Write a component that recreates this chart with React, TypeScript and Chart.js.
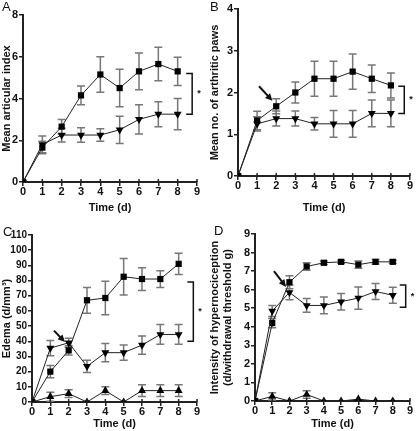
import React, { useEffect, useRef } from "react";
import { Chart, registerables } from "chart.js";
Chart.register(...registerables);

const DAYS = [0, 1, 2, 3, 4, 5, 6, 7, 8];
const X_TICKS = [0, 1, 2, 3, 4, 5, 6, 7, 8, 9];

const A_Y_TICKS = [0, 2, 4, 6, 8];
const A_SQ = [0, 1.65, 2.65, 4.15, 5.15, 4.5, 5.3, 5.65, 5.3];
const A_SQ_ERR = [0, 0.3, 0.35, 0.45, 0.85, 0.9, 0.88, 0.8, 0.68];
const A_DOWN = [0, 1.8, 2.25, 2.25, 2.25, 2.5, 3.0, 3.25, 3.25];
const A_DOWN_ERR = [0, 0.4, 0.33, 0.35, 0.3, 0.65, 0.7, 0.6, 0.75];

const B_Y_TICKS = [0, 1, 2, 3, 4];
const B_SQ = [0, 1.33, 1.67, 2.0, 2.33, 2.33, 2.5, 2.33, 2.17];
const B_SQ_ERR = [0, 0.22, 0.18, 0.25, 0.42, 0.42, 0.42, 0.33, 0.3];
const B_DOWN = [0, 1.25, 1.375, 1.375, 1.25, 1.25, 1.25, 1.5, 1.5];
const B_DOWN_ERR = [0, 0.17, 0.18, 0.18, 0.15, 0.32, 0.32, 0.32, 0.32];

const C_Y_TICKS = [0, 10, 20, 30, 40, 50, 60, 70, 80, 90, 100, 110];
const C_SQ = [0, 20, 34, 67, 68.5, 82.5, 81, 81, 91];
const C_SQ_ERR = [0, 4, 3, 8.5, 11, 12, 7.5, 5.5, 7];
const C_DOWN = [0, 35.5, 39, 23.5, 32.5, 32.5, 37.5, 44.5, 44.5];
const C_DOWN_ERR = [0, 5, 3, 4, 6, 5, 6, 6.5, 6.5];
const C_UP = [0, 3.5, 5.5, 0, 7.5, 0, 7.5, 7.5, 7.5];
const C_UP_ERR = [0, 3, 2.5, 0, 2.5, 0, 3.8, 3.8, 3.8];

const D_Y_TICKS = [0, 1, 2, 3, 4, 5, 6, 7, 8, 9];
const D_SQ = [0, 4.2, 6.4, 7.25, 7.45, 7.5, 7.35, 7.5, 7.5];
const D_SQ_ERR = [0, 0.25, 0.35, 0.2, 0.1, 0.08, 0.2, 0.12, 0.08];
const D_DOWN = [0, 4.85, 5.85, 5.15, 5.15, 5.35, 5.55, 5.9, 5.7];
const D_DOWN_ERR = [0, 0.3, 0.4, 0.37, 0.45, 0.45, 0.6, 0.43, 0.43];
const D_UP = [0, 0.25, 0, 0.35, 0, 0, 0.1, 0, 0];
const D_UP_ERR = [0, 0.2, 0, 0.2, 0, 0, 0, 0, 0];

const FONT = "'Liberation Sans', Arial, sans-serif";

type Series = { values: number[]; err: number[]; shape: "sq" | "down" | "up" };
type PanelProps = {
  letter: string;
  letterPos: [number, number];
  width: number;
  height: number;
  area: { left: number; right: number; top: number; bottom: number };
  yTicks: number[];
  yTickSize: number;
  yTitle: string | string[];
  series: Series[];
  bracket: { x: number; y1: number; y2: number };
  arrow?: { x1: number; y1: number; x2: number; y2: number };
};

function Panel(p: PanelProps) {
  const ref = useRef<HTMLCanvasElement>(null);
  useEffect(() => {
    const canvas = ref.current!;
    const datasets = p.series.map((s) => ({
      data: DAYS.map((d, i) => ({ x: d, y: s.values[i] })),
      borderColor: "#222",
      borderWidth: 1,
      backgroundColor: "#000",
      pointBackgroundColor: "#000",
      pointBorderColor: "#000",
      pointBorderWidth: 0,
      pointStyle: s.shape === "sq" ? "rect" : "triangle",
      pointRotation: s.shape === "down" ? 180 : 0,
      pointRadius: s.shape === "sq" ? 4.4 : 4.6,
      fill: false,
      tension: 0,
    }));
    const errPlugin = {
      id: "err",
      beforeDatasetsDraw(chart: any) {
        const ctx = chart.ctx;
        const xs = chart.scales.x;
        const ys = chart.scales.y;
        ctx.save();
        ctx.strokeStyle = "#777";
        ctx.lineWidth = 1.5;
        p.series.forEach((s) => {
          DAYS.forEach((d, i) => {
            const e = s.err[i];
            if (!e) return;
            const px = xs.getPixelForValue(d);
            const top = ys.getPixelForValue(s.values[i] + e);
            const bot = ys.getPixelForValue(s.values[i] - e);
            ctx.beginPath();
            ctx.moveTo(px, top);
            ctx.lineTo(px, bot);
            ctx.moveTo(px - 4, top);
            ctx.lineTo(px + 4, top);
            ctx.moveTo(px - 4, bot);
            ctx.lineTo(px + 4, bot);
            ctx.stroke();
          });
        });
        ctx.restore();
      },
      afterDraw(chart: any) {
        const ctx = chart.ctx;
        const xs = chart.scales.x;
        const ys = chart.scales.y;
        ctx.save();
        // inward half of x-axis tick crosses
        ctx.strokeStyle = "#222";
        ctx.lineWidth = 1.5;
        const yb = ys.getPixelForValue(0);
        X_TICKS.slice(1).forEach((v) => {
          const px = xs.getPixelForValue(v);
          ctx.beginPath();
          ctx.moveTo(px, yb);
          ctx.lineTo(px, yb - 3);
          ctx.stroke();
        });
        // panel letter
        ctx.fillStyle = "#111";
        ctx.font = `13px ${FONT}`;
        ctx.textBaseline = "top";
        ctx.textAlign = "left";
        ctx.fillText(p.letter, p.letterPos[0], p.letterPos[1]);
        // bracket
        const bx = xs.getPixelForValue(p.bracket.x);
        const by1 = ys.getPixelForValue(p.bracket.y1);
        const by2 = ys.getPixelForValue(p.bracket.y2);
        ctx.strokeStyle = "#111";
        ctx.lineWidth = 1.5;
        ctx.beginPath();
        ctx.moveTo(bx - 6, by1);
        ctx.lineTo(bx, by1);
        ctx.lineTo(bx, by2);
        ctx.lineTo(bx - 6, by2);
        ctx.stroke();
        ctx.font = `bold 9px ${FONT}`;
        ctx.textAlign = "left";
        ctx.textBaseline = "middle";
        ctx.fillText("*", bx + 5, (by1 + by2) / 2);
        // arrow
        if (p.arrow) {
          const x1 = xs.getPixelForValue(p.arrow.x1);
          const y1 = ys.getPixelForValue(p.arrow.y1);
          const x2 = xs.getPixelForValue(p.arrow.x2);
          const y2 = ys.getPixelForValue(p.arrow.y2);
          const ang = Math.atan2(y2 - y1, x2 - x1);
          ctx.lineWidth = 2;
          ctx.beginPath();
          ctx.moveTo(x1, y1);
          ctx.lineTo(x2 - 5 * Math.cos(ang), y2 - 5 * Math.sin(ang));
          ctx.stroke();
          ctx.beginPath();
          ctx.moveTo(x2, y2);
          ctx.lineTo(x2 - 8 * Math.cos(ang - 0.45), y2 - 8 * Math.sin(ang - 0.45));
          ctx.lineTo(x2 - 8 * Math.cos(ang + 0.45), y2 - 8 * Math.sin(ang + 0.45));
          ctx.closePath();
          ctx.fill();
        }
        ctx.restore();
      },
    };
    const yTicks = p.yTicks;
    const chart = new Chart(canvas, {
      type: "line",
      data: { datasets: datasets as any },
      plugins: [errPlugin],
      options: {
        animation: false,
        responsive: false,
        maintainAspectRatio: false,
        layout: {
          padding: { left: 0, top: p.area.top, right: p.width - p.area.right, bottom: 0 },
        },
        plugins: { legend: { display: false }, tooltip: { enabled: false } },
        scales: {
          x: {
            type: "linear",
            min: X_TICKS[0],
            max: X_TICKS[X_TICKS.length - 1],
            afterBuildTicks: (s: any) => {
              s.ticks = X_TICKS.map((v) => ({ value: v }));
            },
            afterFit: (s: any) => {
              s.height = p.height - p.area.bottom;
            },
            ticks: {
              color: "#111",
              font: { family: FONT, size: 11, weight: "bold", lineHeight: 1 },
              padding: 0,
              maxRotation: 0,
              autoSkip: false,
              autoSkipPadding: 0,
            },
            grid: { display: true, drawOnChartArea: false, drawTicks: true, tickLength: 4, color: "#222", lineWidth: 1.5 },
            border: { display: true, color: "#222", width: 2 },
            title: {
              display: true,
              text: "Time (d)",
              color: "#111",
              font: { family: FONT, size: 11, weight: "bold" },
              padding: { top: 5, bottom: 0 },
            },
          },
          y: {
            type: "linear",
            min: yTicks[0],
            max: yTicks[yTicks.length - 1],
            afterBuildTicks: (s: any) => {
              s.ticks = yTicks.map((v) => ({ value: v }));
            },
            afterFit: (s: any) => {
              s.width = p.area.left;
            },
            ticks: {
              color: "#111",
              font: { family: FONT, size: p.yTickSize, weight: "bold", lineHeight: 1 },
              padding: 1,
              autoSkip: false,
              autoSkipPadding: 0,
            },
            grid: { display: true, drawOnChartArea: false, drawTicks: true, tickLength: 4, color: "#222", lineWidth: 1.5 },
            border: { display: true, color: "#222", width: 2 },
            title: {
              display: true,
              text: p.yTitle,
              color: "#111",
              font: { family: FONT, size: 11, weight: "bold", lineHeight: 1.2 },
              padding: { top: 0, bottom: 0 },
            },
          },
        },
      } as any,
    });
    return () => chart.destroy();
  }, []);
  return (
    <canvas
      ref={ref}
      width={p.width}
      height={p.height}
      style={{ display: "block", width: p.width, height: p.height }}
    />
  );
}

export default function App() {
  return (
    <div
      style={{
        position: "absolute",
        left: 0,
        top: 0,
        width: 416,
        height: 431,
        background: "#fff",
        display: "grid",
        gridTemplateColumns: "208px 208px",
        gridTemplateRows: "215px 216px",
      }}
    >
      <Panel
        letter="A"
        letterPos={[2, 1]}
        width={208}
        height={215}
        area={{ left: 23, right: 197, top: 15, bottom: 182 }}
        yTicks={A_Y_TICKS}
        yTickSize={11}
        yTitle="Mean articular index"
        series={[
          { values: A_DOWN, err: A_DOWN_ERR, shape: "down" },
          { values: A_SQ, err: A_SQ_ERR, shape: "sq" },
        ]}
        bracket={{ x: 8.75, y1: 5.2, y2: 3.25 }}
      />
      <Panel
        letter="B"
        letterPos={[2, 1]}
        width={208}
        height={215}
        area={{ left: 30, right: 202, top: 9, bottom: 176 }}
        yTicks={B_Y_TICKS}
        yTickSize={11}
        yTitle="Mean no. of arthritic paws"
        series={[
          { values: B_DOWN, err: B_DOWN_ERR, shape: "down" },
          { values: B_SQ, err: B_SQ_ERR, shape: "sq" },
        ]}
        bracket={{ x: 8.7, y1: 2.15, y2: 1.5 }}
        arrow={{ x1: 1.1, y1: 2.15, x2: 1.8, y2: 1.8 }}
      />
      <Panel
        letter="C"
        letterPos={[3, 11]}
        width={208}
        height={216}
        area={{ left: 32, right: 197, top: 20, bottom: 187 }}
        yTicks={C_Y_TICKS}
        yTickSize={10}
        yTitle="Edema (d/mm³)"
        series={[
          { values: C_UP, err: C_UP_ERR, shape: "up" },
          { values: C_DOWN, err: C_DOWN_ERR, shape: "down" },
          { values: C_SQ, err: C_SQ_ERR, shape: "sq" },
        ]}
        bracket={{ x: 8.8, y1: 79, y2: 40 }}
        arrow={{ x1: 1.2, y1: 47, x2: 1.8, y2: 39.5 }}
      />
      <Panel
        letter="D"
        letterPos={[6, 10]}
        width={208}
        height={216}
        area={{ left: 47, right: 202, top: 19, bottom: 186 }}
        yTicks={D_Y_TICKS}
        yTickSize={11}
        yTitle={["Intensity of hypernociception", "(d/withdrawal threshold g)"]}
        series={[
          { values: D_UP, err: D_UP_ERR, shape: "up" },
          { values: D_DOWN, err: D_DOWN_ERR, shape: "down" },
          { values: D_SQ, err: D_SQ_ERR, shape: "sq" },
        ]}
        bracket={{ x: 8.75, y1: 6.25, y2: 5.05 }}
        arrow={{ x1: 1.1, y1: 7.0, x2: 1.8, y2: 6.15 }}
      />
    </div>
  );
}
